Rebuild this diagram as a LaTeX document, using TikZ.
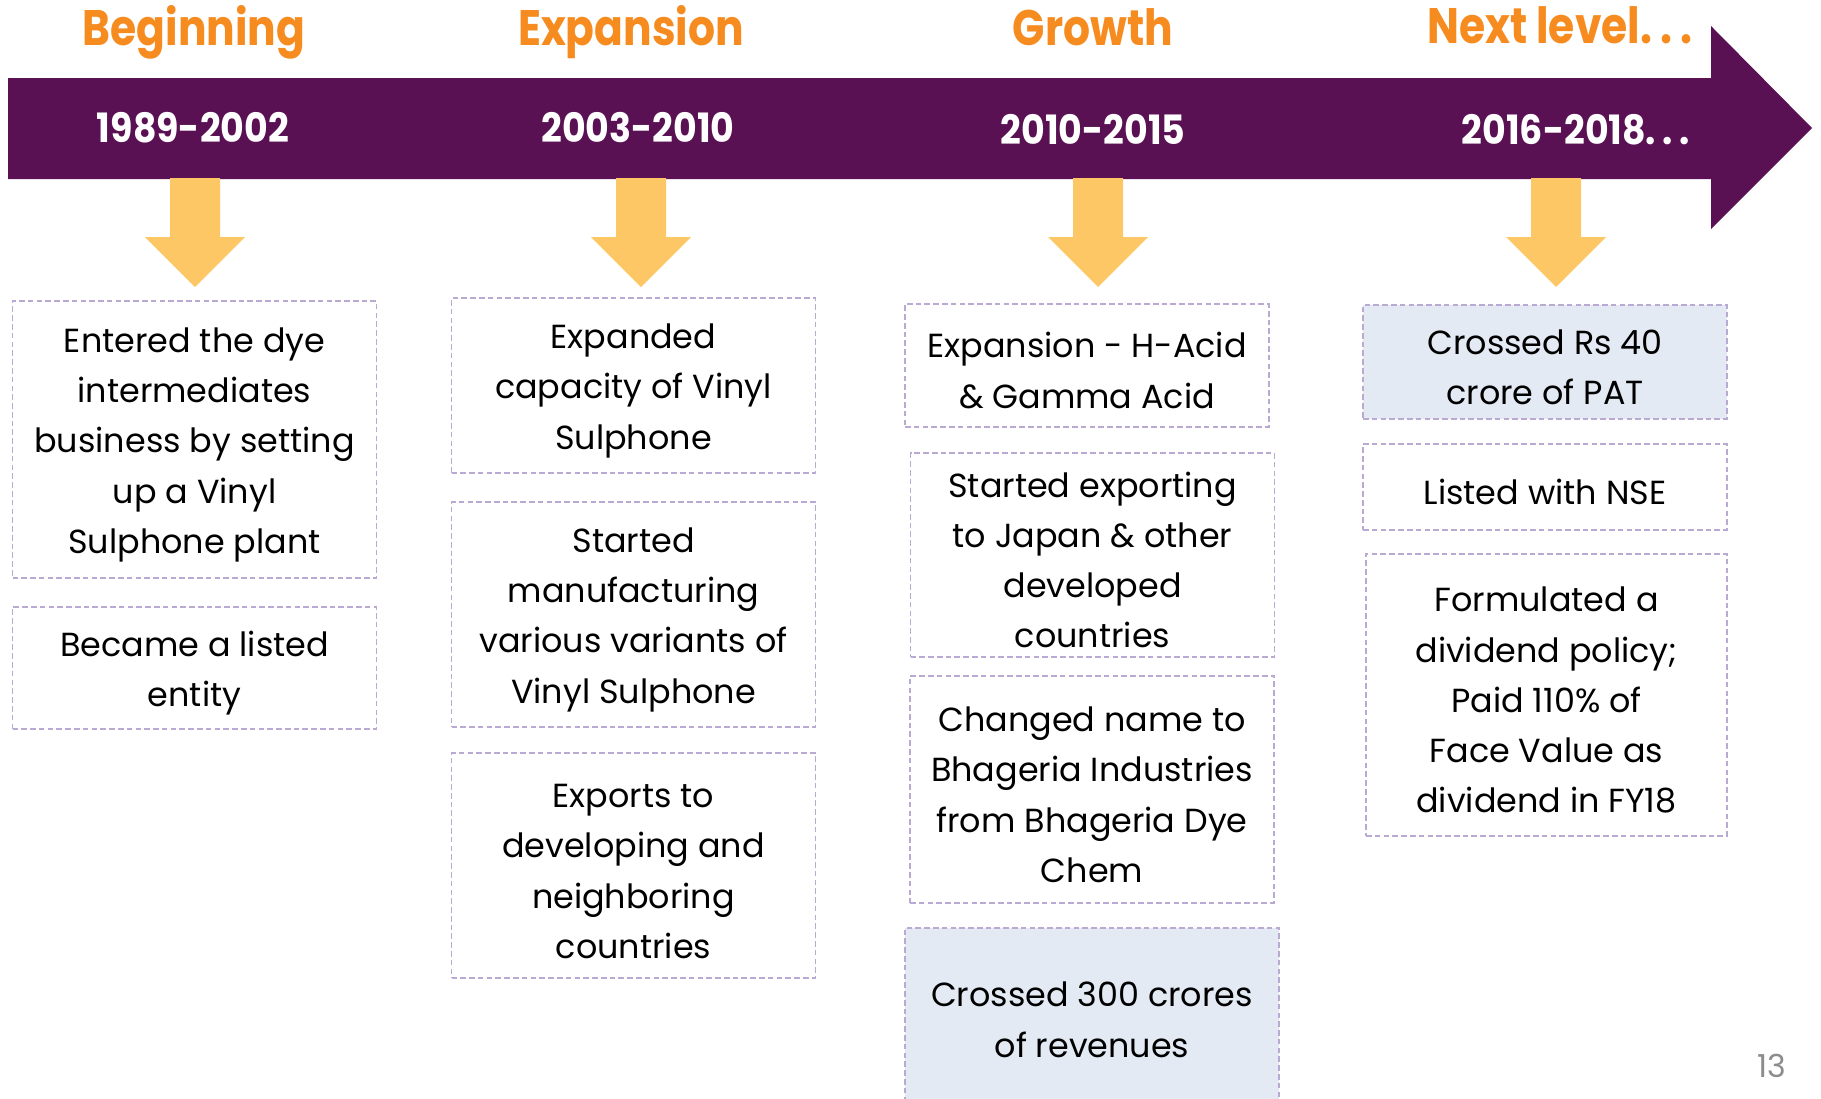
\documentclass[tikz,border=0pt]{standalone}
\usepackage{fontspec}
\setmainfont{Poppins}
\newfontfamily\headfont{Poppins}[FakeStretch=0.85]
\newfontfamily\yearfont{Poppins}[FakeStretch=0.9]
\newcommand{\trail}{.\,.\,.}
\newcommand{\headroom}{\rule{0pt}{10pt}}
\definecolor{plum}{RGB}{90,17,84}
\definecolor{tangerine}{RGB}{246,139,31}
\definecolor{mustard}{RGB}{253,199,101}
\definecolor{lilac}{RGB}{185,169,211}
\definecolor{paleblue}{RGB}{227,234,244}
\definecolor{pagegray}{RGB}{140,140,140}

\begin{document}
\begin{tikzpicture}[x = 0.1mm, y = -0.1mm,
  phase/.style = {text = tangerine, anchor = base, font = \headfont\bfseries\fontsize{14.2}{17}\selectfont},
  years/.style = {text = white, anchor = base, font = \yearfont\bfseries\fontsize{11.5}{14}\selectfont},
  event/.style = {draw = lilac, line width = 0.55pt, dash pattern = on 1.6pt off 0.9pt,
                  align = center, inner sep = 0pt, minimum width = 36.4mm,
                  font = \fontsize{9.5}{14.3}\selectfont},
  hit/.style = {event, fill = paleblue}]
\useasboundingbox (0,0) rectangle (1821,1098);
\clip (0,0) rectangle (1821,1098);
\fill[plum] (8,78) -- (1711,78) -- (1711,26) -- (1812,128) -- (1711,229) -- (1711,179) -- (8,179) -- cycle;
\foreach \x in {195,641,1098,1556}
  \fill[mustard] (\x-25,178) -- (\x+25,178) -- (\x+25,237) -- (\x+50,237) -- (\x,287) -- (\x-50,237) -- (\x-25,237) -- cycle;
\node[phase] (beg) at (194,45) {Beginning};
\node[phase] (exp) at (631,45) {Expansion};
\node[phase] (gro) at (1093,45) {Growth};
\node[phase] (nxt) at (1560,43) {Next level\trail};
\node[years] (y1) at (193,142) {1989-2002};
\node[years] (y2) at (638,142) {2003-2010};
\node[years] (y3) at (1093,144) {2010-2015};
\node[years] (y4) at (1576,144) {2016-2018\trail};
\node[event, minimum height = 27.7mm] (b1a) at (194.5,439.5) {\headroom Entered the dye\\intermediates\\business by setting\\up a Vinyl\\Sulphone plant};
\node[event, minimum height = 12.2mm] (b1b) at (194.5,668) {\headroom Became a listed\\entity};
\node[event, minimum height = 17.5mm] (b2a) at (633.5,385.5) {\headroom Expanded\\capacity of Vinyl\\Sulphone};
\node[event, minimum height = 22.5mm] (b2b) at (633.5,614.5) {\headroom Started\\manufacturing\\various variants of\\Vinyl Sulphone};
\node[event, minimum height = 22.5mm] (b2c) at (633.5,865.5) {\headroom Exports to\\developing and\\neighboring\\countries};
\node[event, minimum height = 12.3mm] (b3a) at (1087,365.5) {\headroom Expansion - H-Acid\\\& Gamma Acid};
\node[event, minimum height = 20.4mm] (b3b) at (1092.5,555) {\headroom Started exporting\\to Japan \& other\\developed\\countries};
\node[event, minimum height = 22.7mm] (b3c) at (1092,789.5) {\headroom Changed name to\\Bhageria Industries\\from Bhageria Dye\\Chem};
\node[hit, minimum width = 37.4mm, minimum height = 17.3mm] (b3d) at (1092,1014.5) {\headroom Crossed 300 crores\\of revenues};
\node[hit, minimum height = 11.4mm] (b4a) at (1545,362) {\headroom Crossed Rs 40\\crore of PAT};
\node[event, minimum height = 8.6mm] (b4b) at (1545,487) {\headroom Listed with NSE};
\node[event, minimum width = 36.1mm, minimum height = 28.2mm] (b4c) at (1546.5,695) {\headroom Formulated a\\dividend policy;\\Paid 110\% of\\Face Value as\\dividend in FY18};
\node[text = pagegray, anchor = base, font = \fontsize{9}{11}\selectfont] (pg) at (1772,1077) {13};
\end{tikzpicture}
\end{document}
